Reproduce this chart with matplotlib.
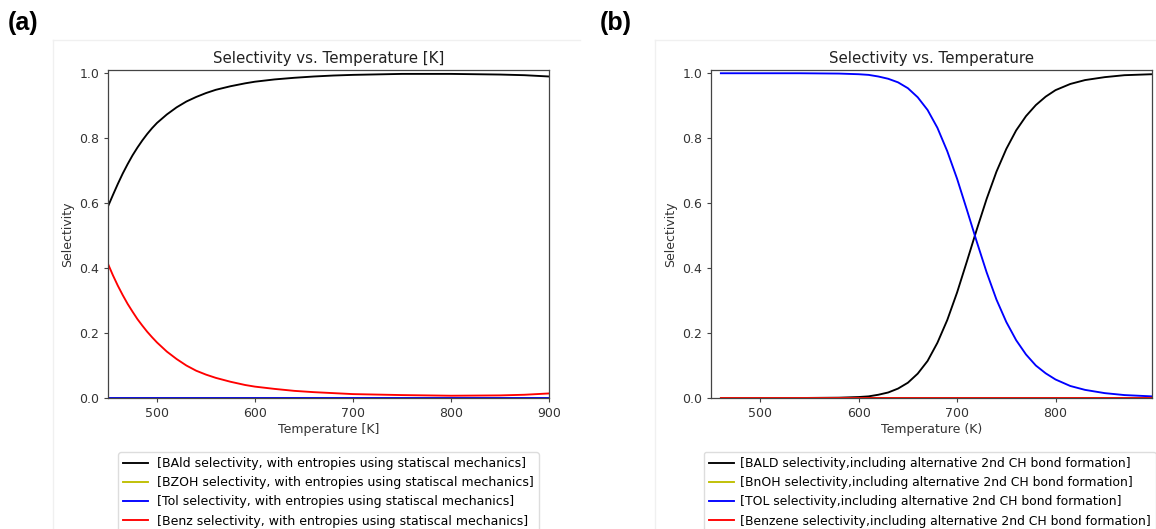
import matplotlib
matplotlib.use("Agg")
import matplotlib.pyplot as plt
from matplotlib.lines import Line2D

# ---------------- data: panel (a) ----------------
temp_a = [450, 455, 460, 465, 470, 475, 480, 485, 490, 495, 500, 510, 520, 530,
          540, 550, 560, 575, 590, 600, 620, 640, 660, 680, 700, 750, 800, 850,
          875, 900]
bald_a = [0.590, 0.625, 0.659, 0.691, 0.720, 0.747, 0.771, 0.793, 0.813, 0.831,
          0.847, 0.873, 0.895, 0.913, 0.927, 0.939, 0.949, 0.960, 0.969, 0.974,
          0.981, 0.986, 0.990, 0.993, 0.995, 0.998, 0.998, 0.996, 0.994, 0.990]
bzoh_a = [0.0] * len(temp_a)
tol_a = [0.0] * len(temp_a)
benz_a = [0.413, 0.378, 0.346, 0.317, 0.290, 0.266, 0.243, 0.223, 0.204, 0.187,
          0.171, 0.143, 0.120, 0.100, 0.084, 0.072, 0.062, 0.050, 0.040, 0.035,
          0.028, 0.022, 0.018, 0.015, 0.012, 0.009, 0.007, 0.008, 0.010, 0.014]
labels_a = ["[BAld selectivity, with entropies using statiscal mechanics]",
            "[BZOH selectivity, with entropies using statiscal mechanics]",
            "[Tol selectivity, with entropies using statiscal mechanics]",
            "[Benz selectivity, with entropies using statiscal mechanics]"]

# ---------------- data: panel (b) ----------------
temp_b = [460, 500, 540, 580, 600, 610, 620, 630, 640, 650, 660, 670, 680, 690,
          700, 710, 720, 730, 740, 750, 760, 770, 780, 790, 800, 815, 830, 850,
          870, 898]
bald_b = [0.000, 0.000, 0.000, 0.001, 0.003, 0.005, 0.010, 0.017, 0.029, 0.047,
          0.075, 0.114, 0.170, 0.240, 0.325, 0.421, 0.519, 0.613, 0.697, 0.767,
          0.824, 0.868, 0.902, 0.928, 0.948, 0.967, 0.979, 0.988, 0.994, 0.997]
bnoh_b = [0.0] * len(temp_b)
tol_b = [1.000, 1.000, 1.000, 0.999, 0.997, 0.995, 0.990, 0.983, 0.972, 0.954,
         0.926, 0.887, 0.832, 0.760, 0.675, 0.579, 0.481, 0.387, 0.303, 0.234,
         0.178, 0.134, 0.100, 0.076, 0.057, 0.037, 0.025, 0.015, 0.009, 0.005]
benzene_b = [0.0] * len(temp_b)
labels_b = ["[BALD selectivity,including alternative 2nd CH bond formation]",
            "[BnOH selectivity,including alternative 2nd CH bond formation]",
            "[TOL selectivity,including alternative 2nd CH bond formation]",
            "[Benzene selectivity,including alternative 2nd CH bond formation]"]

colors = ["k", "y", "b", "r"]
yticks = [0.0, 0.2, 0.4, 0.6, 0.8, 1.0]

W, H = 1156, 529
fig = plt.figure(figsize=(W / 100, H / 100), dpi=100)
fig.patch.set_facecolor("white")

def px_axes(left, top, right, bottom):
    return fig.add_axes([left / W, 1 - bottom / H, (right - left) / W, (bottom - top) / H])

S = 0.9
TICK_FS = 10 * S
LAB_FS = 10 * S
TITLE_FS = 12 * S
LW = 1.5 * S
GRAY = "#444444"

def style(ax):
    for s in ax.spines.values():
        s.set_color(GRAY)
        s.set_linewidth(0.9)
    ax.tick_params(labelsize=TICK_FS, colors=GRAY, labelcolor="#333333",
                   length=3.5 * S, width=0.8, pad=3.5 * S)
    ax.set_yticks(yticks)
    ax.set_ylim(0, 1.01)

def add_legend(ax, left_px, fs, textpad):
    ax.legend(loc="upper left", bbox_to_anchor=(left_px / W, 1 - 452 / H),
              bbox_transform=fig.transFigure, borderaxespad=0, fontsize=fs,
              labelspacing=0.5, handlelength=2.0, handletextpad=textpad,
              framealpha=1, edgecolor="#dddddd")

# panel (a)
ax1 = px_axes(108, 70, 549, 398)
for y, c, lab in zip([bald_a, bzoh_a, tol_a, benz_a], colors, labels_a):
    ax1.plot(temp_a, y, color=c, lw=LW, label=lab)
ax1.set_xlim(450, 900)
ax1.set_xticks([500, 600, 700, 800, 900])
style(ax1)
ax1.set_title("Selectivity vs. Temperature [K]", fontsize=TITLE_FS, color="#222222", pad=6 * S)
ax1.set_xlabel("Temperature [K]", fontsize=LAB_FS, color="#333333", labelpad=3 * S)
ax1.set_ylabel("Selectivity", fontsize=LAB_FS, color="#333333", labelpad=3.5)
add_legend(ax1, 118, 9.0, 0.7)

# panel (b)
ax2 = px_axes(711, 70, 1152, 398)
for y, c, lab in zip([bald_b, bnoh_b, tol_b, benzene_b], colors, labels_b):
    ax2.plot(temp_b, y, color=c, lw=LW, label=lab)
ax2.set_xlim(450, 898)
ax2.set_xticks([500, 600, 700, 800])
style(ax2)
ax2.set_title("Selectivity vs. Temperature", fontsize=TITLE_FS, color="#222222", pad=6 * S)
ax2.set_xlabel("Temperature (K)", fontsize=LAB_FS, color="#333333", labelpad=3 * S)
ax2.set_ylabel("Selectivity", fontsize=LAB_FS, color="#333333", labelpad=3.5)
add_legend(ax2, 704, 8.95, 0.5)

# panel letters
for x, s in [(8, "(a)"), (600, "(b)")]:
    fig.text(x / W, 1 - 11 / H, s, fontsize=18, fontweight="bold", va="top", ha="left",
             family=["Liberation Sans", "DejaVu Sans"])

# faint screenshot borders
for xs, ys in [((53, 53), (40, 529)), ((53, 580), (40, 40)),
               ((655, 655), (40, 529)), ((655, 1156), (40, 40))]:
    fig.add_artist(Line2D([x / W for x in xs], [1 - y / H for y in ys],
                          color="#f0f0f0", lw=1, zorder=-1))

fig.savefig("out.png", dpi=100)
